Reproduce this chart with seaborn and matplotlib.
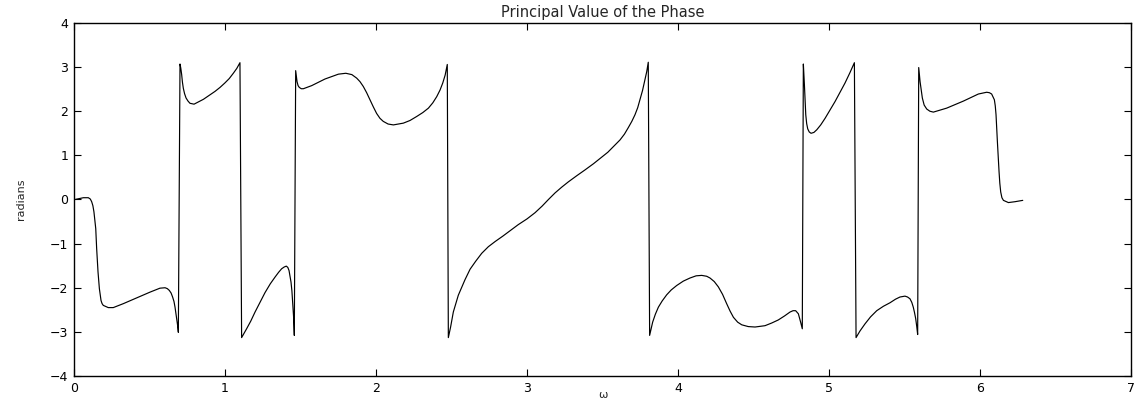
import matplotlib
matplotlib.use("Agg")
import matplotlib.pyplot as plt
import seaborn as sns
import pandas as pd

# Frequency samples (rad/sample) and the principal value of the phase (radians)
omega = [
    0.007, 0.062, 0.095, 0.108, 0.117, 0.125, 0.132, 0.144, 0.150, 0.159,
    0.168, 0.179, 0.186, 0.194, 0.227, 0.260, 0.327, 0.415, 0.503, 0.569,
    0.603, 0.618, 0.631, 0.643, 0.653, 0.662, 0.669, 0.680, 0.686, 0.691,
    0.702, 0.707, 0.713, 0.718, 0.724, 0.732, 0.742, 0.755, 0.768, 0.795,
    0.857, 0.934, 0.967, 0.999, 1.028, 1.055, 1.078, 1.099,
    1.110, 1.143, 1.170, 1.199, 1.232, 1.265, 1.300, 1.331, 1.355, 1.375,
    1.392, 1.406, 1.416, 1.424, 1.437, 1.443, 1.448, 1.454, 1.459,
    1.468, 1.477, 1.484, 1.492, 1.505, 1.519, 1.574, 1.662, 1.751, 1.800,
    1.840, 1.872, 1.894, 1.916, 1.938, 1.960, 1.982, 2.004, 2.026, 2.048,
    2.080, 2.115, 2.181, 2.225, 2.269, 2.310, 2.347, 2.376, 2.402, 2.424,
    2.442, 2.458, 2.472,
    2.479, 2.494, 2.512, 2.545, 2.589, 2.623, 2.660, 2.700, 2.744, 2.790,
    2.840, 2.942, 3.000, 3.053, 3.100, 3.142, 3.186, 3.230, 3.274, 3.330,
    3.384, 3.440, 3.495, 3.535, 3.570, 3.616, 3.645, 3.671, 3.694, 3.715,
    3.733, 3.748, 3.765, 3.781, 3.793, 3.803,
    3.812, 3.832, 3.850, 3.870, 3.895, 3.925, 3.955, 3.991, 4.035, 4.079,
    4.120, 4.157, 4.190, 4.212, 4.240, 4.267, 4.295, 4.322, 4.345, 4.367,
    4.395, 4.422, 4.465, 4.510, 4.576, 4.620, 4.664, 4.705, 4.742, 4.762,
    4.779, 4.797, 4.812, 4.823,
    4.830, 4.837, 4.846, 4.852, 4.859, 4.869, 4.881, 4.900, 4.919, 4.945,
    4.974, 5.005, 5.040, 5.073, 5.106, 5.138, 5.168,
    5.179, 5.205, 5.238, 5.275, 5.316, 5.360, 5.404, 5.440, 5.470, 5.503,
    5.520, 5.536, 5.548, 5.558, 5.566, 5.574, 5.581, 5.587,
    5.594, 5.603, 5.618, 5.630, 5.647, 5.668, 5.691, 5.779, 5.890, 5.989,
    6.044, 6.062, 6.077, 6.095, 6.101, 6.106, 6.115, 6.126, 6.131, 6.137,
    6.145, 6.155, 6.188, 6.232, 6.283,
]
phase = [
    0.00, 0.04, 0.04, 0.01, -0.05, -0.14, -0.28, -0.66, -1.11, -1.64,
    -2.02, -2.29, -2.36, -2.40, -2.45, -2.45, -2.36, -2.23, -2.10, -2.01,
    -2.00, -2.02, -2.06, -2.12, -2.21, -2.31, -2.44, -2.70, -2.85, -3.01,
    3.07, 2.98, 2.83, 2.66, 2.52, 2.40, 2.30, 2.23, 2.18, 2.16,
    2.27, 2.45, 2.54, 2.64, 2.74, 2.86, 2.97, 3.10,
    -3.13, -2.93, -2.76, -2.55, -2.33, -2.11, -1.91, -1.76, -1.65, -1.57,
    -1.53, -1.51, -1.54, -1.61, -1.87, -2.07, -2.33, -2.65, -3.08,
    2.92, 2.67, 2.58, 2.54, 2.51, 2.51, 2.58, 2.73, 2.84, 2.86,
    2.83, 2.75, 2.67, 2.56, 2.42, 2.26, 2.10, 1.95, 1.84, 1.77,
    1.71, 1.69, 1.73, 1.79, 1.88, 1.97, 2.07, 2.19, 2.33, 2.48,
    2.64, 2.82, 3.06,
    -3.13, -2.89, -2.55, -2.17, -1.82, -1.58, -1.40, -1.22, -1.07, -0.95,
    -0.83, -0.57, -0.44, -0.30, -0.15, 0.00, 0.15, 0.28, 0.40, 0.54,
    0.67, 0.81, 0.96, 1.07, 1.19, 1.35, 1.48, 1.63, 1.77, 1.92,
    2.08, 2.26, 2.47, 2.71, 2.90, 3.11,
    -3.08, -2.78, -2.60, -2.44, -2.30, -2.16, -2.05, -1.95, -1.85, -1.78,
    -1.73, -1.72, -1.74, -1.78, -1.86, -1.98, -2.15, -2.36, -2.53, -2.67,
    -2.78, -2.84, -2.88, -2.89, -2.86, -2.80, -2.73, -2.64, -2.55, -2.52,
    -2.52, -2.59, -2.78, -2.93,
    3.07, 2.60, 1.92, 1.72, 1.60, 1.53, 1.50, 1.52, 1.58, 1.69,
    1.84, 2.02, 2.22, 2.43, 2.64, 2.87, 3.10,
    -3.13, -2.98, -2.82, -2.66, -2.52, -2.42, -2.34, -2.26, -2.21, -2.19,
    -2.21, -2.25, -2.33, -2.44, -2.56, -2.70, -2.88, -3.06,
    2.99, 2.67, 2.30, 2.14, 2.05, 2.00, 1.98, 2.07, 2.23, 2.39,
    2.43, 2.42, 2.39, 2.26, 2.12, 1.92, 1.31, 0.63, 0.37, 0.17,
    0.04, -0.02, -0.07, -0.05, -0.02,
]
x_ticks = [0, 1, 2, 3, 4, 5, 6, 7]
y_ticks = [-4, -3, -2, -1, 0, 1, 2, 3, 4]

sns.set_theme(style="ticks")
plt.rcParams["font.family"] = ["DejaVu Sans"]
plt.rcParams.update({
    "xtick.direction": "in", "ytick.direction": "in",
    "xtick.top": True, "ytick.right": True,
    "xtick.major.size": 5, "ytick.major.size": 5,
    "xtick.major.width": 0.8, "ytick.major.width": 0.8,
    "axes.linewidth": 1.0, "axes.edgecolor": "black",
})

df = pd.DataFrame({"omega": omega, "phase": phase}).sort_values("omega")

fig = plt.figure(figsize=(11.35, 4.03), dpi=100)
ax = fig.add_axes([0.0652, 0.067, 0.9313, 0.876])
sns.lineplot(data=df, x="omega", y="phase", sort=False, estimator=None,
             color="black", linewidth=0.85, ax=ax)

ax.set_xlim(0, 7)
ax.set_ylim(-4, 4)
ax.set_xticks(x_ticks)
ax.set_yticks(y_ticks)
ax.set_xticklabels([str(t) for t in x_ticks], fontsize=9)
ax.set_yticklabels([str(t).replace("-", "\u2212") for t in y_ticks], fontsize=9)
ax.tick_params(axis="both", pad=4, colors="black")
ax.set_title("Principal Value of the Phase", fontsize=10.5, pad=4)
ax.set_xlabel("\u03c9", fontsize=8, labelpad=-3)
ax.set_ylabel("radians", fontsize=8, labelpad=17)
for s in ax.spines.values():
    s.set_color("black")

fig.savefig("out.png", dpi=100)
